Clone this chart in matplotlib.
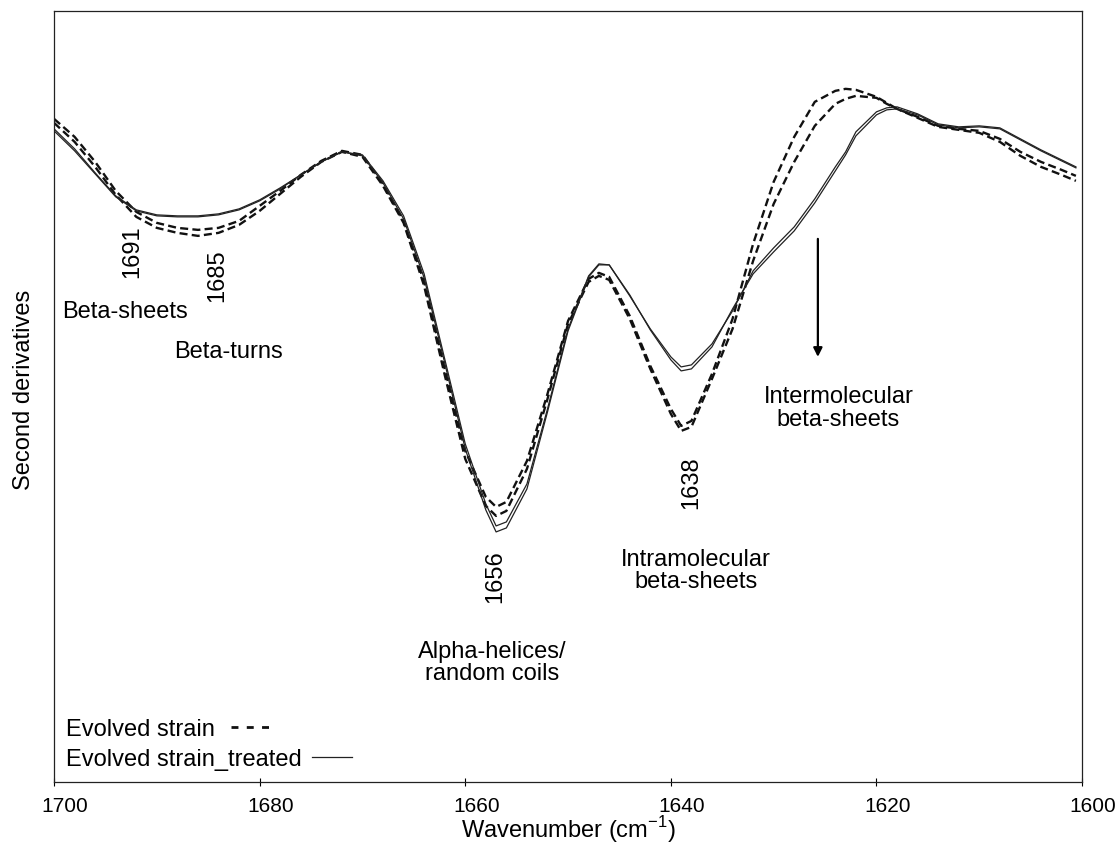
import numpy as np
import matplotlib
matplotlib.use('Agg')
import matplotlib.pyplot as plt
from matplotlib.lines import Line2D
from matplotlib.transforms import ScaledTranslation

'''Second-derivative FTIR spectra (amide I band) of the evolved strain,
untreated (dashed) and treated (solid)'''

plt.rcParams['font.family'] = ['Liberation Sans', 'DejaVu Sans']
plt.rcParams['mathtext.fontset'] = 'custom'
plt.rcParams['mathtext.rm'] = 'Liberation Sans'

#-----------------------------------------------------------------------------
## Data (second derivative, arbitrary units)

wavenumber = [1700, 1698, 1696, 1694, 1692, 1690, 1688, 1686, 1684, 1682,
              1680, 1678, 1676, 1674, 1672, 1670, 1668, 1666, 1664, 1662,
              1660, 1658, 1657, 1656, 1654, 1652, 1650, 1648, 1647, 1646,
              1644, 1642, 1640, 1639, 1638, 1636, 1634, 1632, 1630, 1628,
              1626, 1624, 1623, 1622, 1620, 1619, 1618, 1616, 1614, 1612,
              1610, 1608, 1606, 1604, 1602, 1600.6]

evolved_1 = [280, 262, 237, 208, 187, 176, 171, 169, 171, 178,
             193, 208, 224, 238, 248, 244, 215, 178, 117, 30,
             -52, -98, -108, -103, -62, 5, 78, 120, 126, 122,
             83, 33, -10, -27, -22, 25, 80, 155, 217, 262,
             297, 308, 310, 309, 302, 296, 290, 282, 273, 270,
             268, 260, 247, 237, 229, 223]

evolved_2 = [276, 257, 232, 204, 182, 171, 166, 163, 166, 174,
             188, 205, 222, 237, 247, 242, 213, 176, 113, 24,
             -60, -107, -117, -112, -70, 0, 75, 117, 123, 119,
             80, 30, -15, -32, -28, 20, 70, 138, 195, 237,
             273, 295, 300, 303, 301, 295, 290, 281, 272, 269,
             266, 257, 243, 232, 224, 218]

treated_1 = [268, 248, 225, 202, 188, 183, 182, 182, 184, 189,
             198, 210, 224, 237, 247, 244, 218, 183, 125, 40,
             -45, -105, -127, -123, -85, -10, 70, 123, 135, 134,
             103, 70, 42, 32, 34, 55, 88, 128, 151, 172,
             200, 232, 247, 267, 287, 291, 292, 285, 275, 272,
             273, 271, 260, 249, 239, 232]

treated_2 = [270, 250, 226, 203, 189, 184, 183, 183, 185, 190,
             199, 211, 224, 237, 247, 243, 216, 180, 121, 36,
             -50, -111, -133, -129, -90, -13, 68, 122, 134, 134,
             104, 69, 39, 28, 30, 52, 90, 125, 147, 168,
             196, 228, 244, 263, 284, 289, 290, 284, 274, 271,
             272, 270, 259, 248, 238, 231]

## Band assignments
peak_labels = [('1691', 1692.4, 148), ('1685', 1684.1, 124),
               ('1656', 1657.1, -177), ('1638', 1638.0, -83)]
band_labels = [('Beta-sheets', 1699.2, 88, 'left'),
               ('Beta-turns', 1683.0, 48, 'center'),
               ('Alpha-helices/\nrandom coils', 1657.4, -263, 'center'),
               ('Intramolecular\nbeta-sheets', 1637.55, -171, 'center'),
               ('Intermolecular\nbeta-sheets', 1623.7, -9, 'center')]
arrow_wn, arrow_top, arrow_bottom = 1625.7, 160, 42

xticks = [1700, 1680, 1660, 1640, 1620, 1600]

#-----------------------------------------------------------------------------

fs = 17
fig = plt.figure(figsize=(11.19, 8.45), dpi=100)
ax = fig.add_axes([0.0483, 0.0734, 0.9187, 0.9126])

dash = dict(color='#111111', lw=1.7, linestyle=(0, (3.4, 1.8)))
solid = dict(color='#222222', lw=0.9)
ax.plot(wavenumber, evolved_1, **dash)
ax.plot(wavenumber, evolved_2, **dash)
ax.plot(wavenumber, treated_1, **solid)
ax.plot(wavenumber, treated_2, **solid)

for txt, x, y in peak_labels:
    ax.text(x, y, txt, rotation=90, ha='center', va='center', fontsize=fs)
for txt, x, y, ha in band_labels:
    ax.text(x, y, txt, ha=ha, va='center', fontsize=fs, multialignment='center',
            linespacing=1.05)
ax.annotate('', xy=(arrow_wn, arrow_bottom), xytext=(arrow_wn, arrow_top),
            arrowprops=dict(arrowstyle='-|>', color='black', lw=1.6,
                            mutation_scale=13, shrinkA=0, shrinkB=0))

ax.set_xlim(1700, 1600)
ax.set_ylim(-383, 388)
ax.set_xticks(xticks)
ax.set_yticks([])
ax.tick_params(axis='x', direction='inout', length=6, width=0.8,
               labelsize=15, pad=7)
## tick labels sit a little to the right of their ticks in the original
shift = ScaledTranslation(0.11, 0, fig.dpi_scale_trans)
for lab in ax.get_xticklabels():
    lab.set_transform(lab.get_transform() + shift)

for s in ax.spines.values():
    s.set_linewidth(0.9)
    s.set_color('#222222')

ax.set_xlabel(r'Wavenumber (cm$^{-1}$)', fontsize=fs, labelpad=-1)
ax.set_ylabel('Second derivatives', fontsize=fs)
ax.yaxis.set_label_coords(-0.019, 0.51)

## Legend: label text followed by the line sample
h1 = Line2D([], [], color='#111111', lw=2.0, linestyle=(0, (2.5, 3.0)))
h2 = Line2D([], [], color='#222222', lw=0.9)
leg1 = ax.legend([h1], ['Evolved strain'], loc='center left',
                 bbox_to_anchor=(0.0117, 0.0687), frameon=False, fontsize=fs,
                 markerfirst=False, handlelength=1.7, handletextpad=0.7,
                 borderpad=0, borderaxespad=0)
ax.add_artist(leg1)
ax.legend([h2], ['Evolved strain_treated'], loc='center left',
          bbox_to_anchor=(0.0117, 0.0298), frameon=False, fontsize=fs,
          markerfirst=False, handlelength=1.7, handletextpad=0.42,
          borderpad=0, borderaxespad=0)

fig.savefig('out.png', dpi=100)
